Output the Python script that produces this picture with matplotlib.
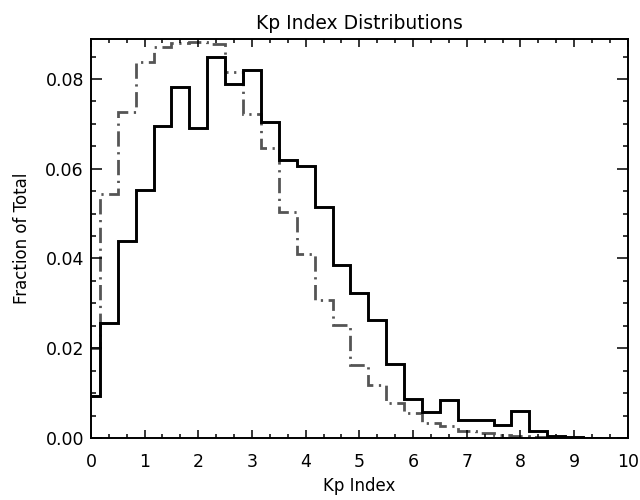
import matplotlib
matplotlib.use("Agg")
import matplotlib.pyplot as plt
from matplotlib.ticker import MultipleLocator
import numpy as np

# Kp 指數分佈 (每 1/3 Kp 一個 bin)
solid_frac = [0.0094, 0.0257, 0.0439, 0.0553, 0.0695, 0.0781, 0.0690, 0.0850,
              0.0789, 0.0820, 0.0704, 0.0620, 0.0607, 0.0515, 0.0385, 0.0323,
              0.0264, 0.0164, 0.0087, 0.0059, 0.0084, 0.0039, 0.0041, 0.0030,
              0.0061, 0.0016, 0.0004, 0.0002, 0.0001]
dashdot_frac = [0.0200, 0.0544, 0.0726, 0.0837, 0.0872, 0.0881, 0.0883, 0.0878,
                0.0815, 0.0721, 0.0646, 0.0504, 0.0411, 0.0307, 0.0252, 0.0163,
                0.0119, 0.0078, 0.0056, 0.0033, 0.0026, 0.0016, 0.0011, 0.0006,
                0.0004, 0.0003, 0.0002, 0.0001, 0.0001]
x_ticks = [0, 1, 2, 3, 4, 5, 6, 7, 8, 9, 10]
y_ticks = [0.00, 0.02, 0.04, 0.06, 0.08]

plt.rcParams['font.family'] = ['DejaVu Sans']
plt.rcParams['lines.scale_dashes'] = False

# bin 中心與邊界
centers = np.arange(len(solid_frac)) / 3.0
edges = np.concatenate([[0.0], (centers[:-1] + centers[1:]) / 2, [centers[-1] + 1 / 6]])

fig = plt.figure(figsize=(6.4, 5.0), dpi=100)
ax = fig.add_axes([0.142, 0.124, 0.839, 0.798])

ax.stairs(dashdot_frac, edges, baseline=None, color='#555555', linewidth=2.0,
          linestyle=(0, (11, 4, 1.6, 4)))
ax.stairs(solid_frac, edges, baseline=None, color='black', linewidth=2.1)

ax.set_xlim(0, 10)
ax.set_ylim(0, 0.0889)
ax.set_xticks(x_ticks)
ax.set_yticks(y_ticks)
ax.set_yticklabels([f"{v:.2f}" for v in y_ticks])
ax.xaxis.set_minor_locator(MultipleLocator(1 / 3))
ax.yaxis.set_minor_locator(MultipleLocator(0.005))

ax.tick_params(which='both', direction='in', top=True, right=True, width=1.1)
ax.tick_params(axis='x', which='major', length=5.8, pad=11, labelsize=12.5)
ax.tick_params(axis='x', which='minor', length=2.9)
ax.tick_params(axis='y', which='major', length=7.8, pad=5, labelsize=12.5)
ax.tick_params(axis='y', which='minor', length=3.9)
for s in ax.spines.values():
    s.set_linewidth(1.4)

ax.set_title('Kp Index Distributions', fontsize=13.5, pad=7)
ax.set_xlabel('Kp Index', fontsize=12, labelpad=4)
ax.set_ylabel('Fraction of Total', fontsize=12, labelpad=10)

fig.savefig('out.png', dpi=100)
